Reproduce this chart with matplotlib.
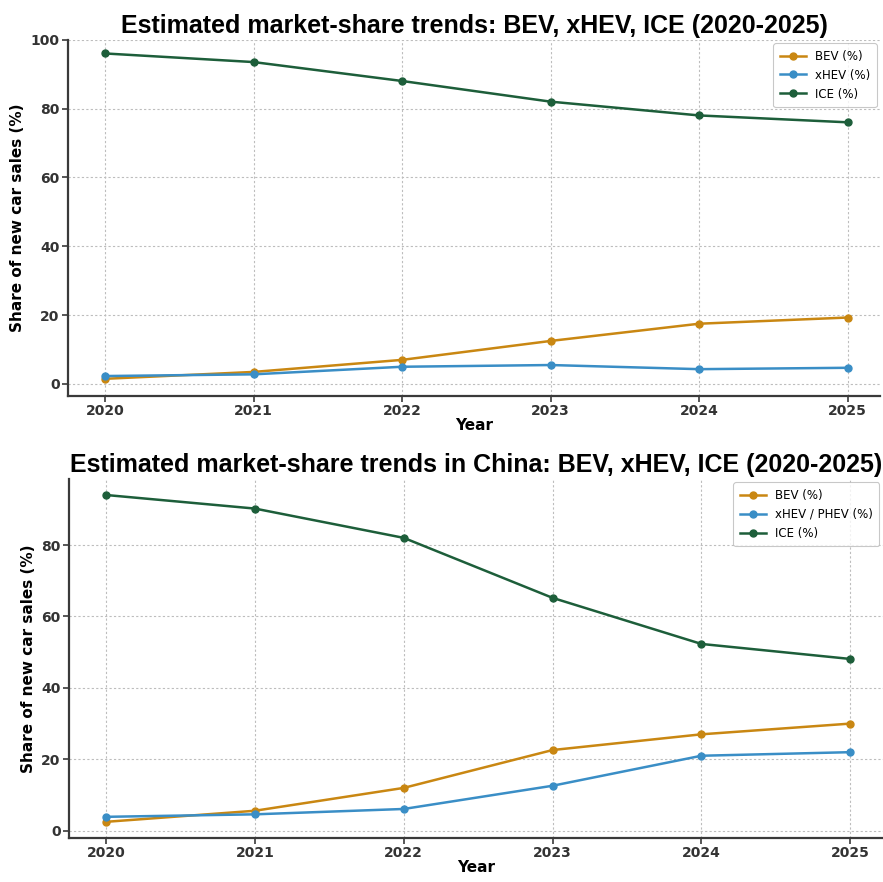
import matplotlib
matplotlib.use('Agg')
import matplotlib.pyplot as plt

# ---- Data ----
years = [2020, 2021, 2022, 2023, 2024, 2025]

global_bev = [1.5, 3.5, 7.0, 12.5, 17.5, 19.3]
global_xhev = [2.3, 2.8, 5.0, 5.5, 4.3, 4.7]
global_ice = [96.0, 93.5, 88.0, 82.0, 78.0, 76.0]

china_bev = [2.5, 5.6, 12.0, 22.6, 27.0, 30.0]
china_xhev = [3.9, 4.6, 6.1, 12.6, 21.0, 22.0]
china_ice = [94.0, 90.2, 82.0, 65.2, 52.3, 48.1]

C_BEV = '#C98712'
C_XHEV = '#3A8EC6'
C_ICE = '#1D5E3A'
C_AXIS = '#3A3A3A'

TITLE_FONT = ['Liberation Sans Narrow', 'Liberation Sans', 'DejaVu Sans']

fig = plt.figure(figsize=(8.83, 8.82), dpi=100)
ax1 = fig.add_axes([0.077, 0.551, 0.920, 0.404])
ax2 = fig.add_axes([0.078, 0.050, 0.922, 0.407])


def style_axis(ax, title, ylim, yticks):
    ax.set_title(title, fontsize=18, fontweight='bold', family=TITLE_FONT,
                 pad=5, color='black')
    ax.set_xlim(years[0] - 0.25, years[-1] + 0.22)
    ax.set_ylim(*ylim)
    ax.set_xticks(years)
    ax.set_yticks(yticks)
    ax.grid(True, linestyle=(0, (2, 2)), color='#BDBDBD', linewidth=0.8)
    for side in ('top', 'right'):
        ax.spines[side].set_visible(False)
    for side in ('left', 'bottom'):
        ax.spines[side].set_color(C_AXIS)
        ax.spines[side].set_linewidth(1.6)
    ax.tick_params(colors=C_AXIS, labelsize=10, width=1.2, length=4, pad=2)
    for lab in ax.get_xticklabels() + ax.get_yticklabels():
        lab.set_fontweight('bold')
        lab.set_color('#333333')
    ax.set_xlabel('Year', fontsize=11, fontweight='bold', labelpad=0)
    ax.set_ylabel('Share of new car sales (%)', fontsize=11,
                  fontweight='bold', labelpad=4)
    leg = ax.legend(loc='upper right', fontsize=8.5, frameon=True,
                    borderpad=0.55, handlelength=2.2, labelspacing=0.5,
                    borderaxespad=0.3)
    leg.get_frame().set_edgecolor('#BBBBBB')
    leg.get_frame().set_linewidth(0.8)


ax1.plot(years, global_bev, '-o', color=C_BEV, lw=1.8, ms=5, label='BEV (%)')
ax1.plot(years, global_xhev, '-o', color=C_XHEV, lw=1.8, ms=5, label='xHEV (%)')
ax1.plot(years, global_ice, '-o', color=C_ICE, lw=1.8, ms=5, label='ICE (%)')
style_axis(ax1, 'Estimated market-share trends: BEV, xHEV, ICE (2020-2025)',
           (-3.5, 100), [0, 20, 40, 60, 80, 100])

ax2.plot(years, china_bev, '-o', color=C_BEV, lw=1.8, ms=5, label='BEV (%)')
ax2.plot(years, china_xhev, '-o', color=C_XHEV, lw=1.8, ms=5,
         label='xHEV / PHEV (%)')
ax2.plot(years, china_ice, '-o', color=C_ICE, lw=1.8, ms=5, label='ICE (%)')
style_axis(ax2, 'Estimated market-share trends in China: BEV, xHEV, ICE (2020-2025)',
           (-2.0, 98.5), [0, 20, 40, 60, 80])

fig.savefig('out.png', dpi=100, facecolor='white')
